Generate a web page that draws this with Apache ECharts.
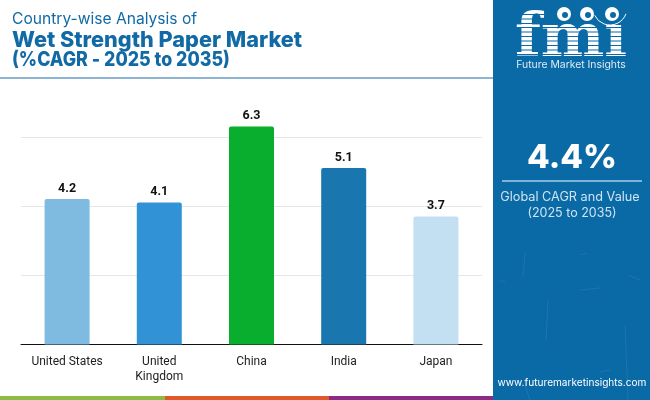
<!DOCTYPE html>
<html>
<head>
<meta charset="utf-8">
<style>
html, body { margin: 0; padding: 0; background: #fff; }
#chart { width: 650px; height: 400px; }
</style>
<script src="https://cdn.jsdelivr.net/npm/echarts@6/dist/echarts.min.js"></script>
</head>
<body>
<div id="chart"></div>
<script>
const categories = ['United States', 'United\nKingdom', 'China', 'India', 'Japan'];
const cagrValues = [4.2, 4.1, 6.3, 5.1, 3.7];
const barColors = ['#7FBAE0', '#3193D5', '#09AE2E', '#1A76AF', '#C2E0F2'];

const panelBlue = '#0A6AA6';
const titleBlue = '#116AA6';
const uiFont = 'Inter, "Open Sans", sans-serif';

const logoStripes = [27, 31.5, 36, 40.5, 45, 49.5, 54];
const logoTopStripes = [14, 18.5, 23];
const logoGlobes = [[564, 14], [587, 14], [612, 14]];
const panelScratches = [
  [525, 253, 523, 277], [548, 300, 546, 340], [625, 325, 628, 400],
  [628, 275, 640, 280], [580, 290, 600, 288], [500, 281, 505, 281],
  [587, 253, 580, 255], [610, 370, 600, 372], [525, 385, 530, 400]
];

function txt(x, y, text, font, fill, align) {
  return {
    type: 'text', x: x, y: y, silent: true,
    style: { text: text, font: font, fill: fill, textAlign: align || 'left', textVerticalAlign: 'middle' }
  };
}
function rect(x, y, w, h, fill) {
  return { type: 'rect', silent: true, shape: { x: x, y: y, width: w, height: h }, style: { fill: fill } };
}

// third title line is squeezed a bit, it sits taller in the reference
const titleLine3 = txt(12, 60, '(%CAGR - 2025 to 2035)', '800 20px ' + uiFont, titleBlue);
titleLine3.scaleX = 0.89;

const decor = [
  // header
  txt(12, 19, 'Country-wise Analysis of', '400 15.6px ' + uiFont, titleBlue),
  txt(12, 40, 'Wet Strength Paper Market', '800 21.7px ' + uiFont, titleBlue),
  titleLine3,
  rect(0, 77, 493, 2, '#8DB4D2'),
  // right panel
  rect(493, 0, 157, 400, panelBlue),
  // bottom strip
  rect(0, 396, 165, 4, '#8DBB45'),
  rect(165, 396, 164, 4, '#E0592A'),
  rect(329, 396, 164, 4, '#8A2C86')
];
panelScratches.forEach(function (s) {
  decor.push({ type: 'line', silent: true, shape: { x1: s[0], y1: s[1], x2: s[2], y2: s[3] },
    style: { stroke: 'rgba(255,255,255,0.08)', lineWidth: 1 } });
});
// logo: dotless i, the globes stand in for the dot
decor.push({ type: 'text', x: 515, y: 40, silent: true, scaleX: 1.0,
  style: { text: 'fmı', font: 'bold 60px "DejaVu Serif"', fill: '#fff', textVerticalAlign: 'middle' } });
logoStripes.forEach(function (y) { decor.push(rect(515, y, 115, 1, panelBlue)); });
logoTopStripes.forEach(function (y) { decor.push(rect(515, y, 35, 1, panelBlue)); });
logoGlobes.forEach(function (c) {
  decor.push({ type: 'circle', silent: true, shape: { cx: c[0], cy: c[1], r: 7 }, style: { fill: '#fff' } });
  decor.push({ type: 'circle', silent: true, shape: { cx: c[0] + 1, cy: c[1] + 1, r: 3 }, style: { fill: panelBlue } });
});
decor.push({ type: 'arc', silent: true,
  shape: { cx: 610, cy: 8, r: 17, startAngle: 0.35, endAngle: 2.7 },
  style: { stroke: '#fff', fill: 'none', lineWidth: 1 } });
decor.push(
  txt(571, 65, 'Future Market Insights', '400 10.4px ' + uiFont, '#DCEBF5', 'center'),
  txt(572, 158, '4.4%', '800 33px ' + uiFont, '#fff', 'center'),
  rect(502, 180, 140, 2, '#7FB4D8'),
  txt(570, 197, 'Global CAGR and Value', '400 12.7px ' + uiFont, '#CFE3F1', 'center'),
  txt(572, 213, '(2025 to 2035)', '400 12.5px ' + uiFont, '#CFE3F1', 'center'),
  txt(572, 383, 'www.futuremarketinsights.com', '400 10.1px ' + uiFont, '#fff', 'center')
);

const chart = echarts.init(document.getElementById('chart'));
chart.setOption({
  animation: false,
  backgroundColor: '#fff',
  grid: { left: 21, right: 168, top: 119.5, bottom: 55.5 },
  xAxis: {
    type: 'category',
    data: categories,
    axisTick: { show: false },
    axisLine: { lineStyle: { color: '#111', width: 1 } },
    axisLabel: { color: '#222', fontFamily: 'Roboto', fontSize: 12, lineHeight: 15, margin: 10, interval: 0 }
  },
  yAxis: {
    type: 'value',
    min: 0,
    max: 6.5,
    interval: 2,
    axisLabel: { show: false },
    axisLine: { show: false },
    axisTick: { show: false },
    splitLine: { showMaxLine: false, lineStyle: { color: '#E6E6E6', width: 1 } }
  },
  series: [{
    type: 'bar',
    barWidth: 45,
    data: cagrValues.map(function (v, i) {
      return { value: v, itemStyle: { color: barColors[i], borderRadius: [2, 2, 0, 0] } };
    }),
    label: {
      show: true, position: 'top', distance: 4,
      color: '#111', fontFamily: 'Roboto', fontWeight: 'bold', fontSize: 12.5,
      formatter: function (p) { return p.value.toFixed(1); }
    }
  }],
  graphic: { elements: decor }
});
</script>
</body>
</html>
